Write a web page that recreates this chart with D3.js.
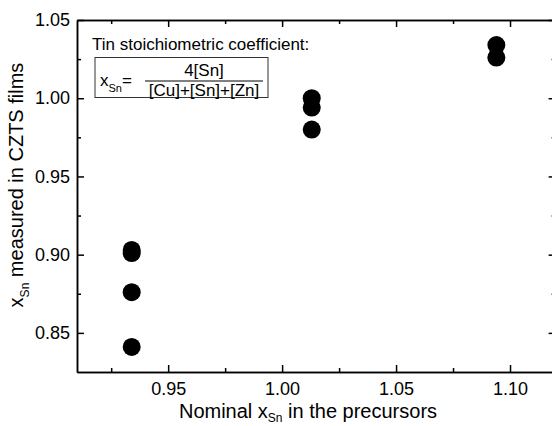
<!DOCTYPE html>
<html><head><meta charset="utf-8">
<script src="https://cdn.jsdelivr.net/npm/d3@7/dist/d3.min.js"></script>
<style>body{margin:0;background:#fff}svg{display:block}text{font-family:"Liberation Sans",Arial,sans-serif;fill:#000}</style>
</head><body>
<script>
const nominalX = [0.934, 0.934, 0.934, 0.934, 1.013, 1.013, 1.013, 1.094, 1.094];
const measuredX = [0.903, 0.901, 0.876, 0.841, 1.000, 0.994, 0.980, 1.034, 1.026];
const xMajorTicks = [0.95, 1.00, 1.05, 1.10];
const xMinorTicks = [0.925, 0.975, 1.025, 1.075];
const yMajorTicks = [0.85, 0.90, 0.95, 1.00, 1.05];
const yMinorTicks = [0.875, 0.925, 0.975, 1.025];

const W = 552, H = 426;
const L = 77, R = 555.6, T = 20, B = 372;
const svg = d3.select("body").append("svg").attr("width", W).attr("height", H);
const x = d3.scaleLinear().domain([0.91, 1.12]).range([L, R]);
const y = d3.scaleLinear().domain([0.825, 1.05]).range([B, T]);
const fmt = d3.format(".2f");
const sw = 1.5;

function ax(gen, ticks, len, labels, tr) {
  const g = svg.append("g").attr("transform", tr)
    .call(gen.tickValues(ticks).tickSizeInner(-len).tickSizeOuter(0).tickFormat(labels ? fmt : ""));
  g.select(".domain").attr("stroke", "#000").attr("stroke-width", sw);
  g.selectAll(".tick line").attr("stroke", "#000").attr("stroke-width", sw);
  g.selectAll(".tick text").attr("font-size", 18).attr("font-family", "Liberation Sans, Arial, sans-serif").attr("fill", "#000");
  return g;
}
const gb = ax(d3.axisBottom(x), xMajorTicks, 7, true, `translate(0,${B})`);
gb.selectAll(".tick text").attr("dy", null).attr("y", 22.5);
ax(d3.axisBottom(x), xMinorTicks, 4, false, `translate(0,${B})`);
ax(d3.axisTop(x), xMajorTicks, 7, false, `translate(0,${T})`);
ax(d3.axisTop(x), xMinorTicks, 4, false, `translate(0,${T})`);
const gl = ax(d3.axisLeft(y), yMajorTicks, 7, true, `translate(${L},0)`);
gl.selectAll(".tick text").attr("x", -7);
ax(d3.axisLeft(y), yMinorTicks, 4, false, `translate(${L},0)`);
ax(d3.axisRight(y), yMajorTicks, 7, false, `translate(${R},0)`);
ax(d3.axisRight(y), yMinorTicks, 4, false, `translate(${R},0)`);

svg.append("g").selectAll("circle").data(nominalX.map((d, i) => [d, measuredX[i]]))
  .join("circle").attr("cx", d => x(d[0])).attr("cy", d => y(d[1])).attr("r", 9).attr("fill", "#000");

const xt = svg.append("text").attr("x", 308).attr("y", 418).attr("text-anchor", "middle").attr("font-size", 20);
xt.append("tspan").text("Nominal x");
xt.append("tspan").attr("font-size", 12).attr("dy", 4).text("Sn");
xt.append("tspan").attr("dy", -4).text(" in the precursors");

const yt = svg.append("text").attr("transform", `translate(23,${185}) rotate(-90)`).attr("text-anchor", "middle").attr("font-size", 20);
yt.append("tspan").text("x");
yt.append("tspan").attr("font-size", 12).attr("dy", 6).text("Sn");
yt.append("tspan").attr("dy", -6).text(" measured in CZTS films");

svg.append("text").attr("x", 92).attr("y", 50).attr("font-size", 17).text("Tin stoichiometric coefficient:");
svg.append("rect").attr("x", 95).attr("y", 57.5).attr("width", 173).attr("height", 40)
  .attr("fill", "none").attr("stroke", "#333").attr("stroke-width", 1);
const fx = svg.append("text").attr("x", 100).attr("y", 86).attr("font-size", 17);
fx.append("tspan").text("x");
fx.append("tspan").attr("font-size", 11).attr("dy", 6).text("Sn");
fx.append("tspan").attr("dy", -6).text("=");
svg.append("text").attr("x", 204).attr("y", 76).attr("text-anchor", "middle").attr("font-size", 17).text("4[Sn]");
svg.append("line").attr("x1", 145).attr("x2", 263).attr("y1", 81).attr("y2", 81).attr("stroke", "#000").attr("stroke-width", 1);
svg.append("text").attr("x", 204).attr("y", 96).attr("text-anchor", "middle").attr("font-size", 17).text("[Cu]+[Sn]+[Zn]");
</script>
</body></html>
